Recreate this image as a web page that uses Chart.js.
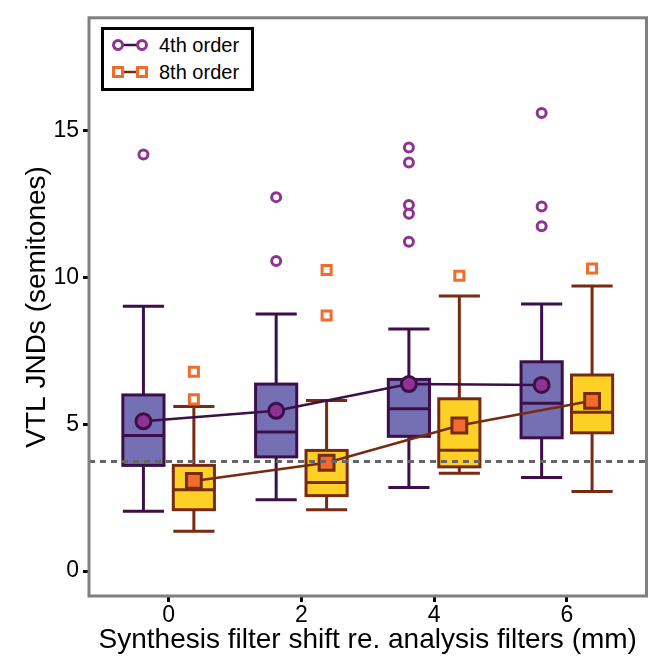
<!DOCTYPE html>
<html>
<head>
<meta charset="utf-8">
<script src="https://cdn.jsdelivr.net/npm/chart.js@4.4.1/dist/chart.umd.min.js"></script>
<style>
  html, body { margin: 0; padding: 0; background: #fff; }
  #wrap { position: relative; width: 660px; height: 659px; }
  #legend {
    position: absolute; left: 101px; top: 27px; width: 147px; height: 58px;
    border: 3px solid #000; background: #fff;
    font-family: "Liberation Sans", Arial, sans-serif; font-size: 20px; color: #000;
  }
  #legend .row { position: absolute; left: 0; height: 24px; line-height: 24px; }
  #legend svg { position: absolute; left: 6px; top: 4px; }
  #legend span { position: absolute; left: 55px; white-space: nowrap; }
</style>
</head>
<body>
<div id="wrap">
  <canvas id="myChart" width="660" height="659"></canvas>
  <div id="legend">
    <div class="row" style="top:3px">
      <svg width="40" height="16"><line x1="8" y1="8" x2="32" y2="8" stroke="#3d0f4a" stroke-width="2.5"/>
        <circle cx="8" cy="8" r="4.5" fill="#fff" stroke="#8e3393" stroke-width="3"/>
        <circle cx="32" cy="8" r="4.5" fill="#fff" stroke="#8e3393" stroke-width="3"/></svg>
      <span>4th order</span>
    </div>
    <div class="row" style="top:30px">
      <svg width="40" height="16"><line x1="8" y1="8" x2="32" y2="8" stroke="#772b12" stroke-width="2.5"/>
        <rect x="3.5" y="3.5" width="9" height="9" fill="#fff" stroke="#f26a2c" stroke-width="3"/>
        <rect x="27.5" y="3.5" width="9" height="9" fill="#fff" stroke="#f26a2c" stroke-width="3"/></svg>
      <span>8th order</span>
    </div>
  </div>
</div>
<script>
// filter shift positions (mm) and tick labels
var positions = [0, 2, 4, 6];
var tickLabels = ['0', '2', '4', '6'];

// 4th order box stats
var low4 = [2.04, 2.43, 2.85, 3.19];
var q1_4 = [3.60, 3.89, 4.59, 4.54];
var med4 = [4.62, 4.74, 5.53, 5.72];
var q3_4 = [6.00, 6.37, 6.53, 7.13];
var high4 = [9.02, 8.76, 8.25, 9.10];
var mean4 = [5.10, 5.46, 6.37, 6.34];
var outX4 = [0, 2, 2, 4, 4, 4, 4, 4, 6, 6, 6];
var outY4 = [14.19, 12.74, 10.56, 14.43, 13.92, 12.47, 12.17, 11.22, 15.61, 12.42, 11.75];

// 8th order box stats
var low8 = [1.36, 2.09, 3.33, 2.71];
var q1_8 = [2.09, 2.57, 3.55, 4.71];
var med8 = [2.77, 3.02, 4.12, 5.41];
var q3_8 = [3.60, 4.11, 5.87, 6.68];
var high8 = [5.61, 5.81, 9.37, 9.71];
var mean8 = [3.07, 3.69, 4.96, 5.80];
var outX8 = [0, 0, 2, 2, 4, 6];
var outY8 = [6.79, 5.85, 10.26, 8.71, 10.06, 10.31];

var refLine = 3.73;

var dodge = 0.38, boxWidth = 0.62;

var purple = { fill: '#7570b3', edge: '#3d0f4a', point: '#8e3393' };
var orange = { fill: '#fdd026', edge: '#772b12', point: '#f26a2c' };

var boxes = [
    { off: -dodge, low: low4, q1: q1_4, med: med4, q3: q3_4, high: high4, col: purple },
    { off: dodge, low: low8, q1: q1_8, med: med8, q3: q3_8, high: high8, col: orange }
];

function pts(xs, ys, off) {
    var out = [];
    for (var i = 0; i < xs.length; i++) out.push({ x: xs[i] + off, y: ys[i] });
    return out;
}

var boxPlugin = {
    id: 'boxes',
    beforeDatasetsDraw: function (chart) {
        var ctx = chart.ctx, xs = chart.scales.x, ys = chart.scales.y;
        var hw = (xs.getPixelForValue(boxWidth / 2) - xs.getPixelForValue(0));
        ctx.save();
        boxes.forEach(function (b) {
            for (var i = 0; i < positions.length; i++) {
                var cx = xs.getPixelForValue(positions[i] + b.off);
                var yl = ys.getPixelForValue(b.low[i]), y1 = ys.getPixelForValue(b.q1[i]);
                var ym = ys.getPixelForValue(b.med[i]), y3 = ys.getPixelForValue(b.q3[i]);
                var yh = ys.getPixelForValue(b.high[i]);
                ctx.strokeStyle = b.col.edge;
                ctx.lineWidth = 3;
                ctx.beginPath();
                ctx.moveTo(cx, yl); ctx.lineTo(cx, yh);
                ctx.moveTo(cx - hw, yl); ctx.lineTo(cx + hw, yl);
                ctx.moveTo(cx - hw, yh); ctx.lineTo(cx + hw, yh);
                ctx.stroke();
                ctx.fillStyle = b.col.fill;
                ctx.fillRect(cx - hw, y3, hw * 2, y1 - y3);
                ctx.strokeRect(cx - hw, y3, hw * 2, y1 - y3);
                ctx.beginPath();
                ctx.moveTo(cx - hw, ym); ctx.lineTo(cx + hw, ym);
                ctx.stroke();
            }
        });
        ctx.restore();
    },
    afterDatasetsDraw: function (chart) {
        var ctx = chart.ctx, a = chart.chartArea, ys = chart.scales.y;
        var y = ys.getPixelForValue(refLine);
        ctx.save();
        ctx.strokeStyle = '#666666';
        ctx.lineWidth = 3;
        ctx.setLineDash([6, 5]);
        ctx.beginPath();
        ctx.moveTo(a.left, y); ctx.lineTo(a.right, y);
        ctx.stroke();
        ctx.setLineDash([]);
        ctx.strokeStyle = '#7f7f7f';
        ctx.lineWidth = 3;
        ctx.strokeRect(a.left, a.top, a.right - a.left, a.bottom - a.top);
        ctx.restore();
    }
};

var font = 'Liberation Sans, Arial, sans-serif';

var ctx = document.getElementById('myChart').getContext('2d');
var myChart = new Chart(ctx, {
    type: 'scatter',
    data: {
        datasets: [{
            label: '4th order mean',
            data: pts(positions, mean4, -dodge),
            showLine: true,
            borderColor: purple.edge,
            borderWidth: 2.5,
            pointStyle: 'circle',
            pointRadius: 7.5,
            pointBackgroundColor: purple.point,
            pointBorderColor: purple.edge,
            pointBorderWidth: 3
        }, {
            label: '8th order mean',
            data: pts(positions, mean8, dodge),
            showLine: true,
            borderColor: orange.edge,
            borderWidth: 2.5,
            pointStyle: 'rect',
            pointRadius: 10.5,
            pointBackgroundColor: orange.point,
            pointBorderColor: orange.edge,
            pointBorderWidth: 3
        }, {
            label: '4th order outliers',
            data: pts(outX4, outY4, -dodge),
            pointStyle: 'circle',
            pointRadius: 4.5,
            pointBackgroundColor: '#fff',
            pointBorderColor: purple.point,
            pointBorderWidth: 3
        }, {
            label: '8th order outliers',
            data: pts(outX8, outY8, dodge),
            pointStyle: 'rect',
            pointRadius: 6.4,
            pointBackgroundColor: '#fff',
            pointBorderColor: orange.point,
            pointBorderWidth: 3
        }]
    },
    options: {
        responsive: false,
        animation: false,
        layout: { padding: { top: 12, right: 3, left: 0, bottom: 0 } },
        plugins: { legend: { display: false }, tooltip: { enabled: false } },
        scales: {
            x: {
                type: 'linear',
                min: -1.2,
                max: 7.2,
                afterBuildTicks: function (s) { s.ticks = positions.map(function (v) { return { value: v }; }); },
                afterFit: function (s) { s.height = 63; },
                ticks: {
                    callback: function (v) { return tickLabels[positions.indexOf(v)]; },
                    color: '#000',
                    font: { family: font, size: 23 },
                    padding: 0,
                    maxRotation: 0
                },
                grid: { drawOnChartArea: false, tickLength: 6, tickColor: '#000', tickWidth: 3 },
                border: { display: false },
                title: {
                    display: true,
                    text: 'Synthesis filter shift re. analysis filters (mm)',
                    color: '#000',
                    font: { family: font, size: 28 },
                    padding: { top: 0, bottom: 2 }
                }
            },
            y: {
                min: -0.85,
                max: 18.85,
                afterBuildTicks: function (s) { s.ticks = [0, 5, 10, 15].map(function (v) { return { value: v }; }); },
                afterFit: function (s) { s.width = 89; },
                ticks: {
                    color: '#000',
                    font: { family: font, size: 23 },
                    padding: 4
                },
                grid: { drawOnChartArea: false, tickLength: 6, tickColor: '#000', tickWidth: 3 },
                border: { display: false },
                title: {
                    display: true,
                    text: 'VTL JNDs (semitones)',
                    color: '#000',
                    font: { family: font, size: 28 },
                    padding: { top: 20, bottom: 0 }
                }
            }
        }
    },
    plugins: [boxPlugin]
});
</script>
</body>
</html>
